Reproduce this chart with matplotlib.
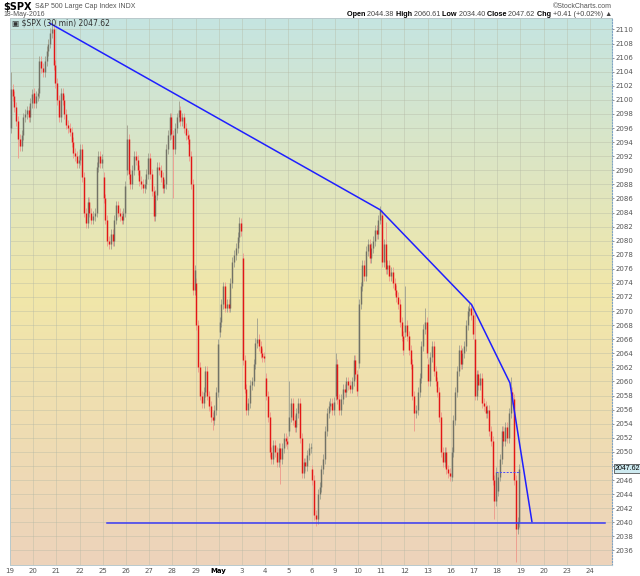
import numpy as np
import matplotlib
matplotlib.use('Agg')
import matplotlib.pyplot as plt
from matplotlib.colors import LinearSegmentedColormap
from matplotlib.transforms import blended_transform_factory

# ---------------- data ----------------
day_labels = ['19', '20', '21', '22', '25', '26', '27', '28', '29', 'May', '3', '4',
              '5', '6', '9', '10', '11', '12', '13', '16', '17', '18', '19', '20', '23', '24']
bars_per_day = 13
# opening price of the first 30-min bar of each trading day (Apr 19 .. May 18)
day_opens = [2096.0, 2101.0, 2102.4, 2091.5, 2089.0, 2090.0, 2091.7, 2095.0, 2074.0,
             2067.0, 2077.5, 2060.5, 2053.0, 2047.5, 2058.0, 2062.6, 2083.6, 2067.0,
             2062.5, 2046.5, 2066.0, 2044.38]
# 30-min closes, 13 per trading day
closes = [
    2101.5, 2100.5, 2099.0, 2097.0, 2094.5, 2093.5, 2095.0, 2097.5, 2098.0, 2098.5, 2097.5, 2099.5, 2100.8,  # Apr 19
    2099.5, 2100.5, 2101.0, 2105.5, 2104.5, 2104.0, 2105.5, 2107.0, 2108.0, 2109.5, 2110.0, 2105.0, 2102.4,  # Apr 20
    2100.0, 2097.5, 2101.0, 2100.0, 2098.0, 2096.5, 2096.0, 2095.5, 2094.0, 2092.5, 2092.0, 2091.0, 2091.5,  # Apr 21
    2093.0, 2089.0, 2084.0, 2082.5, 2085.5, 2084.0, 2083.0, 2083.5, 2084.0, 2090.5, 2092.0, 2091.0, 2091.6,  # Apr 22
    2086.0, 2083.0, 2080.0, 2079.5, 2081.0, 2080.0, 2083.0, 2085.0, 2084.0, 2083.5, 2083.0, 2084.0, 2087.8,  # Apr 25
    2094.5, 2089.5, 2088.0, 2090.0, 2092.0, 2091.5, 2090.0, 2088.5, 2088.0, 2087.5, 2088.0, 2089.5, 2091.7,  # Apr 26
    2089.5, 2087.0, 2083.5, 2086.5, 2090.5, 2090.0, 2089.0, 2087.5, 2088.0, 2093.0, 2095.0, 2097.5, 2095.2,  # Apr 27
    2093.0, 2096.0, 2097.5, 2098.5, 2097.0, 2097.5, 2096.0, 2095.0, 2094.5, 2092.0, 2088.0, 2073.0, 2075.8,  # Apr 28
    2068.0, 2062.0, 2058.0, 2057.0, 2058.5, 2061.5, 2058.0, 2056.5, 2055.0, 2054.5, 2056.0, 2058.5, 2065.3,  # Apr 29
    2068.5, 2071.0, 2073.5, 2070.5, 2071.0, 2070.5, 2074.0, 2077.0, 2078.0, 2079.0, 2080.5, 2082.5, 2081.4,  # May 2
    2063.0, 2059.0, 2056.0, 2057.0, 2059.5, 2060.0, 2062.5, 2065.5, 2066.0, 2065.0, 2064.0, 2063.5, 2063.4,  # May 3
    2058.0, 2055.0, 2050.0, 2049.0, 2051.0, 2050.0, 2048.5, 2050.5, 2049.0, 2050.5, 2052.0, 2051.5, 2051.1,  # May 4
    2055.0, 2057.0, 2054.5, 2053.5, 2055.5, 2057.0, 2052.0, 2047.0, 2048.5, 2048.0, 2049.5, 2050.5, 2050.6,  # May 5
    2046.0, 2041.0, 2040.5, 2044.0, 2045.0, 2047.5, 2049.0, 2053.0, 2055.5, 2056.5, 2057.0, 2056.0, 2057.1,  # May 6
    2062.5, 2057.5, 2056.0, 2057.5, 2059.0, 2058.5, 2060.0, 2059.5, 2059.0, 2060.0, 2063.0, 2061.0, 2058.7,  # May 9
    2071.0, 2073.5, 2076.5, 2075.0, 2078.5, 2079.5, 2077.5, 2079.0, 2080.0, 2081.5, 2081.0, 2083.0, 2084.4,  # May 10
    2077.0, 2079.5, 2076.0, 2076.5, 2075.0, 2075.5, 2074.0, 2073.0, 2072.0, 2071.0, 2068.5, 2066.5, 2064.5,  # May 11
    2068.0, 2066.5, 2064.5, 2062.5, 2058.0, 2055.5, 2056.0, 2058.5, 2060.5, 2065.0, 2067.5, 2068.5, 2064.1,  # May 12
    2060.0, 2063.5, 2065.0, 2061.5, 2060.0, 2058.5, 2055.0, 2050.0, 2048.5, 2050.0, 2047.5, 2047.0, 2046.6,  # May 13
    2050.0, 2054.5, 2058.5, 2061.5, 2064.5, 2062.5, 2064.0, 2065.0, 2068.0, 2070.0, 2070.5, 2069.5, 2066.7,  # May 16
    2058.0, 2061.0, 2059.5, 2060.5, 2057.0, 2056.5, 2055.5, 2056.0, 2053.0, 2051.5, 2046.0, 2043.0, 2047.2,  # May 17
    2046.5, 2049.0, 2053.0, 2051.5, 2053.5, 2052.0, 2055.5, 2058.5, 2057.5, 2046.0, 2039.0, 2040.0, 2047.62, # May 18
]
# notable bar extremes: (day index, bar index) -> price
bar_highs = {(0, 0): 2104.0, (1, 10): 2111.05, (5, 0): 2096.5, (7, 3): 2099.9, (9, 11): 2083.3,
             (10, 8): 2069.0, (12, 0): 2060.0, (14, 0): 2064.0, (15, 12): 2084.87, (16, 2): 2082.6,
             (17, 0): 2073.5, (17, 11): 2070.5, (19, 11): 2071.1, (20, 0): 2070.0, (21, 7): 2060.61}
bar_lows = {(0, 4): 2091.7, (7, 0): 2086.0, (8, 9): 2053.1, (11, 8): 2045.5, (13, 2): 2039.45,
            (17, 5): 2053.0, (20, 11): 2040.5, (21, 10): 2034.40}
wick = 0.7

# drawn trendlines (day position, price)
trend_x = [1.71, 15.95, 19.90, 21.55, 22.50]
trend_y = [2110.9, 2084.4, 2070.9, 2059.8, 2040.05]
support_x = [4.18, 25.65]
support_y = [2039.9, 2039.9]
dash_x = [20.95, 22.0]
dash_y = [2047.1, 2047.1]
last_close = 2047.62

# ---------------- figure ----------------
W, H = 640, 576
L, R, T, B = 9.5, 612, 18, 565
fig = plt.figure(figsize=(W / 100, H / 100), dpi=100)
fig.patch.set_facecolor('white')
ax = fig.add_axes([L / W, 1 - B / H, (R - L) / W, (B - T) / H])
xlim = (-0.02, 25.95)
ylim = (2033.93, 2111.63)

cmap = LinearSegmentedColormap.from_list('bg', [(0, '#c5e4e1'), (0.5, '#f1e7a9'), (1.0, '#edd3bb')])
grad = np.linspace(0, 1, 256).reshape(-1, 1)
ax.imshow(grad, extent=[xlim[0], xlim[1], ylim[0], ylim[1]], aspect='auto', cmap=cmap,
          origin='upper', zorder=0, interpolation='bicubic')

# build OHLC
n_days = len(day_opens)
xs, o_, h_, l_, c_ = [], [], [], [], []
for d in range(n_days):
    for i in range(bars_per_day):
        k = d * bars_per_day + i
        c = closes[k]
        o = day_opens[d] if i == 0 else closes[k - 1]
        hi = bar_highs.get((d, i), max(o, c) + wick)
        lo = bar_lows.get((d, i), min(o, c) - wick)
        xs.append(d + (i + 0.5) / bars_per_day)
        o_.append(o); h_.append(hi); l_.append(lo); c_.append(c)
xs = np.array(xs); o_ = np.array(o_); h_ = np.array(h_); l_ = np.array(l_); c_ = np.array(c_)
up = c_ >= o_
body_lo = np.minimum(o_, c_)
body_hi = np.maximum(np.maximum(o_, c_), body_lo + 0.2)

ax.vlines(xs[up], l_[up], h_[up], color='#a3a390', lw=0.65, zorder=2)
ax.vlines(xs[~up], l_[~up], h_[~up], color='#ee9c8e', lw=0.65, zorder=2)
ax.vlines(xs[up], body_lo[up], body_hi[up], color='#727266', lw=1.05, zorder=3)
ax.vlines(xs[~up], body_lo[~up], body_hi[~up], color='#e31616', lw=1.05, zorder=3)

ax.plot(trend_x, trend_y, color='#1f1fff', lw=1.1, zorder=5, solid_capstyle='round')
ax.plot(support_x, support_y, color='#3a3af5', lw=1.1, zorder=5)
ax.plot(dash_x, dash_y, color='#4848ff', lw=0.7, ls=(0, (2, 1.5)), zorder=5)

ax.set_xlim(*xlim)
ax.set_ylim(*ylim)
ax.set_axisbelow(True)
ax.set_xticks(np.arange(len(day_labels)))
ax.set_xticklabels(day_labels)
yt = np.arange(2036, 2111, 2)
ax.set_yticks(yt)
ax.set_yticklabels(['' if v == 2048 else '%d' % v for v in yt])
ax.yaxis.tick_right()
ax.tick_params(axis='x', length=0, pad=2.5, labelsize=5, labelcolor='#555555')
ax.tick_params(axis='y', length=1.5, width=0.5, color='#666666', pad=1.2, labelsize=5,
               labelcolor='#555555')
for lab in ax.get_xticklabels():
    if lab.get_text() == 'May':
        lab.set_fontweight('bold')
        lab.set_color('black')
ax.grid(True, color='#b4b8a4', lw=0.5, alpha=0.55)

for s in ['top', 'bottom', 'left']:
    ax.spines[s].set_color('#b9c9cc')
    ax.spines[s].set_linewidth(0.7)
ax.spines['right'].set_color('#7fa3c6')
ax.spines['right'].set_linestyle(':')
ax.spines['right'].set_linewidth(0.8)

# last value tag
trans = blended_transform_factory(ax.transAxes, ax.transData)
ax.text(1.004, last_close, '%.2f' % last_close, transform=trans, ha='left', va='center',
        fontsize=5, family='Liberation Sans', color='black', zorder=10, clip_on=False,
        bbox=dict(boxstyle='square,pad=0.12', fc='#cdeaf0', ec='#333333', lw=0.5))

# in-plot title
fig.text(12 / W, 1 - 23 / H, '\u25a3 $SPX (30 min) 2047.62', fontsize=5.5, color='#333333',
         va='center', ha='left')

# header
fig.text(3 / W, 1 - 7 / H, '$SPX', fontsize=7, fontweight='bold', color='black', va='center')
fig.text(35 / W, 1 - 7 / H, 'S&P 500 Large Cap Index INDX', fontsize=5, color='#555555',
         va='center', family='Liberation Sans')
fig.text(3 / W, 1 - 14.5 / H, '18-May-2016', fontsize=5, color='#555555', va='center',
         family='Liberation Sans')
fig.text(612 / W, 1 - 6.5 / H, '\u00a9StockCharts.com', fontsize=5, color='#555555',
         va='center', ha='right', family='Liberation Sans')

pieces = [('Open ', 'bold'), ('2044.38 ', 'normal'), ('High ', 'bold'), ('2060.61 ', 'normal'),
          ('Low ', 'bold'), ('2034.40 ', 'normal'), ('Close ', 'bold'), ('2047.62 ', 'normal'),
          ('Chg ', 'bold'), ('+0.41 (+0.02%) \u25b2', 'normal')]
hdr_family = ['Liberation Sans', 'DejaVu Sans']
renderer = fig.canvas.get_renderer()
widths = []
for txt, wgt in pieces:
    t = fig.text(0, 0, txt.replace(' ', '\u00a0'), fontsize=5.2, fontweight=wgt, family=hdr_family)
    widths.append(t.get_window_extent(renderer).width)
    t.remove()
xcur = 612 - sum(widths)
for (txt, wgt), wdt in zip(pieces, widths):
    fig.text(xcur / W, 1 - 15 / H, txt.replace(' ', '\u00a0'), fontsize=5.2, fontweight=wgt,
             family=hdr_family, color='black' if wgt == 'bold' else '#444444',
             va='center', ha='left')
    xcur += wdt

fig.savefig('out.png', dpi=100, facecolor='white')
